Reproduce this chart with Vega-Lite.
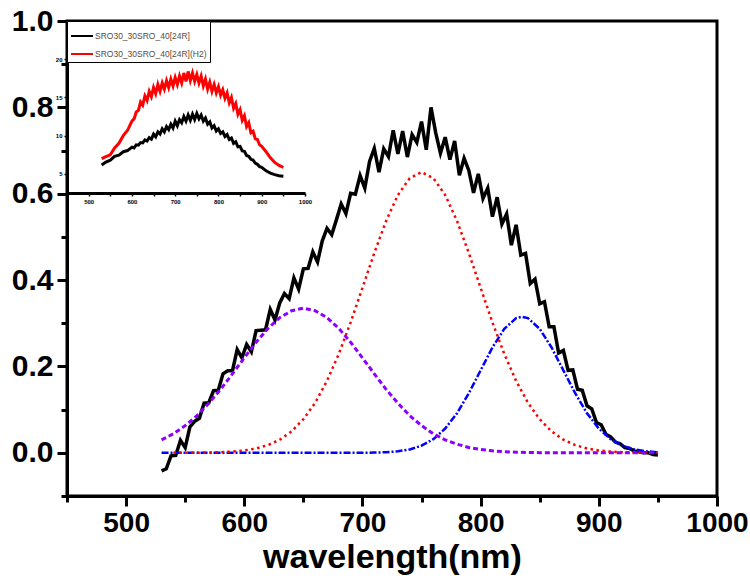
{
  "$schema": "https://vega.github.io/schema/vega-lite/v6.json",
  "width": 650,
  "height": 475,
  "autosize": {"type": "none"},
  "padding": {"left": 67, "top": 21, "right": 33, "bottom": 83},
  "background": "white",
  "config": {
    "view": {"stroke": "black", "strokeWidth": 3},
    "font": "Liberation Sans"
  },
  "datasets": {
    "exp": [
      {"wl":530,"v":-0.042},{"wl":534,"v":-0.037},{"wl":538,"v":-0.007},{"wl":542,"v":-0.006},{"wl":546,"v":0.029},{"wl":550,"v":0.012},{"wl":554,"v":0.06},{"wl":558,"v":0.073},{"wl":562,"v":0.08},{"wl":566,"v":0.115},{"wl":570,"v":0.116},{"wl":574,"v":0.144},{"wl":578,"v":0.145},{"wl":582,"v":0.183},{"wl":586,"v":0.19},{"wl":590,"v":0.19},{"wl":594,"v":0.239},{"wl":598,"v":0.22},{"wl":602,"v":0.251},{"wl":606,"v":0.234},{"wl":610,"v":0.283},{"wl":614,"v":0.284},{"wl":618,"v":0.285},{"wl":622,"v":0.332},{"wl":626,"v":0.308},{"wl":630,"v":0.347},{"wl":634,"v":0.369},{"wl":638,"v":0.357},{"wl":642,"v":0.405},{"wl":646,"v":0.379},{"wl":650,"v":0.426},{"wl":654,"v":0.427},{"wl":658,"v":0.465},{"wl":662,"v":0.442},{"wl":666,"v":0.491},{"wl":670,"v":0.52},{"wl":674,"v":0.505},{"wl":678,"v":0.54},{"wl":682,"v":0.576},{"wl":686,"v":0.554},{"wl":690,"v":0.601},{"wl":694,"v":0.599},{"wl":698,"v":0.642},{"wl":702,"v":0.613},{"wl":706,"v":0.675},{"wl":710,"v":0.705},{"wl":714,"v":0.65},{"wl":718,"v":0.704},{"wl":722,"v":0.686},{"wl":726,"v":0.747},{"wl":730,"v":0.692},{"wl":734,"v":0.745},{"wl":738,"v":0.685},{"wl":742,"v":0.737},{"wl":746,"v":0.719},{"wl":750,"v":0.767},{"wl":754,"v":0.702},{"wl":758,"v":0.80},{"wl":762,"v":0.741},{"wl":766,"v":0.694},{"wl":770,"v":0.731},{"wl":774,"v":0.679},{"wl":778,"v":0.722},{"wl":782,"v":0.643},{"wl":786,"v":0.682},{"wl":790,"v":0.654},{"wl":794,"v":0.602},{"wl":798,"v":0.646},{"wl":802,"v":0.589},{"wl":806,"v":0.613},{"wl":810,"v":0.547},{"wl":814,"v":0.592},{"wl":818,"v":0.53},{"wl":822,"v":0.553},{"wl":826,"v":0.481},{"wl":830,"v":0.528},{"wl":834,"v":0.458},{"wl":838,"v":0.462},{"wl":842,"v":0.392},{"wl":846,"v":0.402},{"wl":850,"v":0.345},{"wl":854,"v":0.35},{"wl":858,"v":0.292},{"wl":862,"v":0.292},{"wl":866,"v":0.231},{"wl":870,"v":0.237},{"wl":874,"v":0.191},{"wl":878,"v":0.192},{"wl":882,"v":0.147},{"wl":886,"v":0.145},{"wl":890,"v":0.109},{"wl":894,"v":0.102},{"wl":898,"v":0.07},{"wl":902,"v":0.065},{"wl":906,"v":0.043},{"wl":910,"v":0.037},{"wl":914,"v":0.025},{"wl":918,"v":0.021},{"wl":922,"v":0.012},{"wl":926,"v":0.01},{"wl":930,"v":0.004},{"wl":934,"v":0.003},{"wl":938,"v":0.0},{"wl":942,"v":0.0},{"wl":946,"v":-0.004},{"wl":950,"v":-0.005}
    ],
    "purple": [
      {"wl":530,"v":0.030},{"wl":540,"v":0.044},{"wl":550,"v":0.063},{"wl":560,"v":0.086},{"wl":570,"v":0.115},{"wl":580,"v":0.147},{"wl":590,"v":0.183},{"wl":600,"v":0.220},{"wl":610,"v":0.256},{"wl":620,"v":0.288},{"wl":630,"v":0.313},{"wl":640,"v":0.329},{"wl":650,"v":0.335},{"wl":660,"v":0.329},{"wl":670,"v":0.313},{"wl":680,"v":0.288},{"wl":690,"v":0.256},{"wl":700,"v":0.220},{"wl":710,"v":0.183},{"wl":720,"v":0.147},{"wl":730,"v":0.115},{"wl":740,"v":0.086},{"wl":750,"v":0.063},{"wl":760,"v":0.044},{"wl":770,"v":0.030},{"wl":780,"v":0.020},{"wl":790,"v":0.0125},{"wl":800,"v":0.0077},{"wl":810,"v":0.0046},{"wl":820,"v":0.0026},{"wl":830,"v":0.0015},{"wl":840,"v":0.0008},{"wl":850,"v":0.0004},{"wl":860,"v":0.0002},{"wl":870,"v":0.0001},{"wl":880,"v":0},{"wl":890,"v":0},{"wl":900,"v":0},{"wl":910,"v":0},{"wl":920,"v":0},{"wl":930,"v":0},{"wl":940,"v":0},{"wl":950,"v":0}
    ],
    "red": [
      {"wl":540,"v":0.0},{"wl":550,"v":0.0001},{"wl":560,"v":0.0003},{"wl":570,"v":0.0007},{"wl":580,"v":0.0014},{"wl":590,"v":0.0028},{"wl":600,"v":0.0054},{"wl":610,"v":0.0101},{"wl":620,"v":0.0179},{"wl":630,"v":0.0304},{"wl":640,"v":0.0497},{"wl":650,"v":0.0776},{"wl":660,"v":0.116},{"wl":670,"v":0.1667},{"wl":680,"v":0.229},{"wl":690,"v":0.302},{"wl":700,"v":0.382},{"wl":710,"v":0.4626},{"wl":720,"v":0.537},{"wl":730,"v":0.597},{"wl":740,"v":0.636},{"wl":750,"v":0.65},{"wl":760,"v":0.636},{"wl":770,"v":0.597},{"wl":780,"v":0.537},{"wl":790,"v":0.4626},{"wl":800,"v":0.382},{"wl":810,"v":0.302},{"wl":820,"v":0.229},{"wl":830,"v":0.1667},{"wl":840,"v":0.116},{"wl":850,"v":0.0776},{"wl":860,"v":0.0497},{"wl":870,"v":0.0304},{"wl":880,"v":0.0179},{"wl":890,"v":0.0101},{"wl":900,"v":0.0054},{"wl":910,"v":0.0028},{"wl":920,"v":0.0014},{"wl":930,"v":0.0007},{"wl":940,"v":0.0003},{"wl":950,"v":0.0001}
    ],
    "blue": [
      {"wl":530,"v":0},{"wl":550,"v":0},{"wl":600,"v":0},{"wl":650,"v":0},{"wl":690,"v":0},{"wl":700,"v":0.0002},{"wl":710,"v":0.0005},{"wl":720,"v":0.0014},{"wl":730,"v":0.0035},{"wl":740,"v":0.0079},{"wl":750,"v":0.0165},{"wl":760,"v":0.0317},{"wl":770,"v":0.0562},{"wl":780,"v":0.0917},{"wl":790,"v":0.138},{"wl":800,"v":0.191},{"wl":810,"v":0.244},{"wl":820,"v":0.287},{"wl":830,"v":0.312},{"wl":835,"v":0.315},{"wl":840,"v":0.312},{"wl":850,"v":0.287},{"wl":860,"v":0.244},{"wl":870,"v":0.191},{"wl":880,"v":0.138},{"wl":890,"v":0.0917},{"wl":900,"v":0.0562},{"wl":910,"v":0.0317},{"wl":920,"v":0.0165},{"wl":930,"v":0.0079},{"wl":940,"v":0.0035},{"wl":950,"v":0.0014}
    ],
    "ins": [
      {"wl":530,"v":6.15,"s":"SRO30_30SRO_40[24R]"},{"wl":540,"v":6.55,"s":"SRO30_30SRO_40[24R]"},{"wl":550,"v":6.8,"s":"SRO30_30SRO_40[24R]"},{"wl":560,"v":7.3,"s":"SRO30_30SRO_40[24R]"},{"wl":570,"v":7.45,"s":"SRO30_30SRO_40[24R]"},{"wl":580,"v":7.9,"s":"SRO30_30SRO_40[24R]"},{"wl":590,"v":8.05,"s":"SRO30_30SRO_40[24R]"},{"wl":600,"v":8.5,"s":"SRO30_30SRO_40[24R]"},{"wl":605,"v":8.4,"s":"SRO30_30SRO_40[24R]"},{"wl":610,"v":8.8,"s":"SRO30_30SRO_40[24R]"},{"wl":615,"v":8.75,"s":"SRO30_30SRO_40[24R]"},{"wl":620,"v":9.1,"s":"SRO30_30SRO_40[24R]"},{"wl":625,"v":9.05,"s":"SRO30_30SRO_40[24R]"},{"wl":630,"v":9.45,"s":"SRO30_30SRO_40[24R]"},{"wl":635,"v":9.3,"s":"SRO30_30SRO_40[24R]"},{"wl":640,"v":9.75,"s":"SRO30_30SRO_40[24R]"},{"wl":645,"v":9.55,"s":"SRO30_30SRO_40[24R]"},{"wl":650,"v":10.2,"s":"SRO30_30SRO_40[24R]"},{"wl":655,"v":9.85,"s":"SRO30_30SRO_40[24R]"},{"wl":660,"v":10.5,"s":"SRO30_30SRO_40[24R]"},{"wl":665,"v":10.2,"s":"SRO30_30SRO_40[24R]"},{"wl":670,"v":10.9,"s":"SRO30_30SRO_40[24R]"},{"wl":675,"v":10.5,"s":"SRO30_30SRO_40[24R]"},{"wl":680,"v":11.2,"s":"SRO30_30SRO_40[24R]"},{"wl":685,"v":10.8,"s":"SRO30_30SRO_40[24R]"},{"wl":690,"v":11.5,"s":"SRO30_30SRO_40[24R]"},{"wl":695,"v":11.0,"s":"SRO30_30SRO_40[24R]"},{"wl":700,"v":11.9,"s":"SRO30_30SRO_40[24R]"},{"wl":705,"v":11.3,"s":"SRO30_30SRO_40[24R]"},{"wl":710,"v":12.1,"s":"SRO30_30SRO_40[24R]"},{"wl":715,"v":11.7,"s":"SRO30_30SRO_40[24R]"},{"wl":720,"v":12.5,"s":"SRO30_30SRO_40[24R]"},{"wl":725,"v":11.9,"s":"SRO30_30SRO_40[24R]"},{"wl":730,"v":12.7,"s":"SRO30_30SRO_40[24R]"},{"wl":735,"v":12.0,"s":"SRO30_30SRO_40[24R]"},{"wl":740,"v":12.8,"s":"SRO30_30SRO_40[24R]"},{"wl":745,"v":12.1,"s":"SRO30_30SRO_40[24R]"},{"wl":750,"v":12.9,"s":"SRO30_30SRO_40[24R]"},{"wl":755,"v":12.2,"s":"SRO30_30SRO_40[24R]"},{"wl":760,"v":12.7,"s":"SRO30_30SRO_40[24R]"},{"wl":765,"v":11.9,"s":"SRO30_30SRO_40[24R]"},{"wl":770,"v":12.3,"s":"SRO30_30SRO_40[24R]"},{"wl":775,"v":11.5,"s":"SRO30_30SRO_40[24R]"},{"wl":780,"v":11.8,"s":"SRO30_30SRO_40[24R]"},{"wl":785,"v":11.0,"s":"SRO30_30SRO_40[24R]"},{"wl":790,"v":11.3,"s":"SRO30_30SRO_40[24R]"},{"wl":795,"v":10.6,"s":"SRO30_30SRO_40[24R]"},{"wl":800,"v":10.9,"s":"SRO30_30SRO_40[24R]"},{"wl":805,"v":10.3,"s":"SRO30_30SRO_40[24R]"},{"wl":810,"v":10.5,"s":"SRO30_30SRO_40[24R]"},{"wl":815,"v":9.9,"s":"SRO30_30SRO_40[24R]"},{"wl":820,"v":10.15,"s":"SRO30_30SRO_40[24R]"},{"wl":825,"v":9.5,"s":"SRO30_30SRO_40[24R]"},{"wl":830,"v":9.7,"s":"SRO30_30SRO_40[24R]"},{"wl":835,"v":9.0,"s":"SRO30_30SRO_40[24R]"},{"wl":840,"v":9.2,"s":"SRO30_30SRO_40[24R]"},{"wl":845,"v":8.55,"s":"SRO30_30SRO_40[24R]"},{"wl":850,"v":8.6,"s":"SRO30_30SRO_40[24R]"},{"wl":855,"v":8.0,"s":"SRO30_30SRO_40[24R]"},{"wl":860,"v":7.95,"s":"SRO30_30SRO_40[24R]"},{"wl":865,"v":7.4,"s":"SRO30_30SRO_40[24R]"},{"wl":870,"v":7.3,"s":"SRO30_30SRO_40[24R]"},{"wl":875,"v":6.9,"s":"SRO30_30SRO_40[24R]"},{"wl":880,"v":6.8,"s":"SRO30_30SRO_40[24R]"},{"wl":885,"v":6.4,"s":"SRO30_30SRO_40[24R]"},{"wl":890,"v":6.25,"s":"SRO30_30SRO_40[24R]"},{"wl":895,"v":5.95,"s":"SRO30_30SRO_40[24R]"},{"wl":900,"v":5.85,"s":"SRO30_30SRO_40[24R]"},{"wl":910,"v":5.4,"s":"SRO30_30SRO_40[24R]"},{"wl":920,"v":5.1,"s":"SRO30_30SRO_40[24R]"},{"wl":930,"v":4.9,"s":"SRO30_30SRO_40[24R]"},{"wl":940,"v":4.75,"s":"SRO30_30SRO_40[24R]"},{"wl":950,"v":4.7,"s":"SRO30_30SRO_40[24R]"},
      {"wl":530,"v":7.0,"s":"SRO30_30SRO_40[24R](H2)"},{"wl":540,"v":7.25,"s":"SRO30_30SRO_40[24R](H2)"},{"wl":550,"v":7.5,"s":"SRO30_30SRO_40[24R](H2)"},{"wl":560,"v":8.4,"s":"SRO30_30SRO_40[24R](H2)"},{"wl":570,"v":9.0,"s":"SRO30_30SRO_40[24R](H2)"},{"wl":580,"v":10.0,"s":"SRO30_30SRO_40[24R](H2)"},{"wl":590,"v":10.7,"s":"SRO30_30SRO_40[24R](H2)"},{"wl":600,"v":11.9,"s":"SRO30_30SRO_40[24R](H2)"},{"wl":605,"v":12.2,"s":"SRO30_30SRO_40[24R](H2)"},{"wl":610,"v":13.1,"s":"SRO30_30SRO_40[24R](H2)"},{"wl":615,"v":13.3,"s":"SRO30_30SRO_40[24R](H2)"},{"wl":620,"v":14.4,"s":"SRO30_30SRO_40[24R](H2)"},{"wl":625,"v":14.0,"s":"SRO30_30SRO_40[24R](H2)"},{"wl":630,"v":15.2,"s":"SRO30_30SRO_40[24R](H2)"},{"wl":635,"v":14.6,"s":"SRO30_30SRO_40[24R](H2)"},{"wl":640,"v":15.8,"s":"SRO30_30SRO_40[24R](H2)"},{"wl":645,"v":15.1,"s":"SRO30_30SRO_40[24R](H2)"},{"wl":650,"v":16.3,"s":"SRO30_30SRO_40[24R](H2)"},{"wl":655,"v":15.5,"s":"SRO30_30SRO_40[24R](H2)"},{"wl":660,"v":16.7,"s":"SRO30_30SRO_40[24R](H2)"},{"wl":665,"v":15.8,"s":"SRO30_30SRO_40[24R](H2)"},{"wl":670,"v":16.9,"s":"SRO30_30SRO_40[24R](H2)"},{"wl":675,"v":16.1,"s":"SRO30_30SRO_40[24R](H2)"},{"wl":680,"v":17.2,"s":"SRO30_30SRO_40[24R](H2)"},{"wl":685,"v":16.3,"s":"SRO30_30SRO_40[24R](H2)"},{"wl":690,"v":17.4,"s":"SRO30_30SRO_40[24R](H2)"},{"wl":695,"v":16.5,"s":"SRO30_30SRO_40[24R](H2)"},{"wl":700,"v":17.6,"s":"SRO30_30SRO_40[24R](H2)"},{"wl":705,"v":16.7,"s":"SRO30_30SRO_40[24R](H2)"},{"wl":710,"v":17.8,"s":"SRO30_30SRO_40[24R](H2)"},{"wl":715,"v":16.9,"s":"SRO30_30SRO_40[24R](H2)"},{"wl":720,"v":18.2,"s":"SRO30_30SRO_40[24R](H2)"},{"wl":725,"v":17.1,"s":"SRO30_30SRO_40[24R](H2)"},{"wl":730,"v":18.4,"s":"SRO30_30SRO_40[24R](H2)"},{"wl":735,"v":17.2,"s":"SRO30_30SRO_40[24R](H2)"},{"wl":740,"v":18.2,"s":"SRO30_30SRO_40[24R](H2)"},{"wl":745,"v":17.1,"s":"SRO30_30SRO_40[24R](H2)"},{"wl":750,"v":18.0,"s":"SRO30_30SRO_40[24R](H2)"},{"wl":755,"v":16.9,"s":"SRO30_30SRO_40[24R](H2)"},{"wl":760,"v":17.8,"s":"SRO30_30SRO_40[24R](H2)"},{"wl":765,"v":16.5,"s":"SRO30_30SRO_40[24R](H2)"},{"wl":770,"v":17.4,"s":"SRO30_30SRO_40[24R](H2)"},{"wl":775,"v":16.1,"s":"SRO30_30SRO_40[24R](H2)"},{"wl":780,"v":17.0,"s":"SRO30_30SRO_40[24R](H2)"},{"wl":785,"v":15.8,"s":"SRO30_30SRO_40[24R](H2)"},{"wl":790,"v":16.7,"s":"SRO30_30SRO_40[24R](H2)"},{"wl":795,"v":15.6,"s":"SRO30_30SRO_40[24R](H2)"},{"wl":800,"v":16.4,"s":"SRO30_30SRO_40[24R](H2)"},{"wl":805,"v":15.3,"s":"SRO30_30SRO_40[24R](H2)"},{"wl":810,"v":16.0,"s":"SRO30_30SRO_40[24R](H2)"},{"wl":815,"v":14.9,"s":"SRO30_30SRO_40[24R](H2)"},{"wl":820,"v":15.6,"s":"SRO30_30SRO_40[24R](H2)"},{"wl":825,"v":14.3,"s":"SRO30_30SRO_40[24R](H2)"},{"wl":830,"v":15.0,"s":"SRO30_30SRO_40[24R](H2)"},{"wl":835,"v":13.6,"s":"SRO30_30SRO_40[24R](H2)"},{"wl":840,"v":14.2,"s":"SRO30_30SRO_40[24R](H2)"},{"wl":845,"v":12.8,"s":"SRO30_30SRO_40[24R](H2)"},{"wl":850,"v":13.4,"s":"SRO30_30SRO_40[24R](H2)"},{"wl":855,"v":12.0,"s":"SRO30_30SRO_40[24R](H2)"},{"wl":860,"v":12.6,"s":"SRO30_30SRO_40[24R](H2)"},{"wl":865,"v":11.2,"s":"SRO30_30SRO_40[24R](H2)"},{"wl":870,"v":11.7,"s":"SRO30_30SRO_40[24R](H2)"},{"wl":875,"v":10.4,"s":"SRO30_30SRO_40[24R](H2)"},{"wl":880,"v":10.6,"s":"SRO30_30SRO_40[24R](H2)"},{"wl":885,"v":9.6,"s":"SRO30_30SRO_40[24R](H2)"},{"wl":890,"v":9.5,"s":"SRO30_30SRO_40[24R](H2)"},{"wl":895,"v":8.8,"s":"SRO30_30SRO_40[24R](H2)"},{"wl":900,"v":8.6,"s":"SRO30_30SRO_40[24R](H2)"},{"wl":910,"v":7.9,"s":"SRO30_30SRO_40[24R](H2)"},{"wl":920,"v":7.1,"s":"SRO30_30SRO_40[24R](H2)"},{"wl":930,"v":6.5,"s":"SRO30_30SRO_40[24R](H2)"},{"wl":940,"v":6.1,"s":"SRO30_30SRO_40[24R](H2)"},{"wl":950,"v":5.85,"s":"SRO30_30SRO_40[24R](H2)"}
    ]
  },
  "layer": [
    {
      "layer": [
        {
          "data": {"name": "exp"},
          "mark": {"type": "line", "color": "black", "strokeWidth": 3.5},
          "encoding": {
            "x": {"field": "wl", "type": "quantitative",
              "scale": {"domain": [450, 1000], "nice": false, "zero": false},
              "axis": {
                "title": "wavelength(nm)",
                "values": [450,500,550,600,650,700,750,800,850,900,950,1000],
                "format": "d",
                "labelExpr": "datum.value % 100 == 0 ? format(datum.value, 'd') : ''",
                "tickSize": {"condition": {"test": "datum.value % 100 == 0", "value": 10}, "value": 6},
                "tickWidth": 3, "tickColor": "black",
                "domainWidth": 3, "domainColor": "black",
                "grid": false, "labelFlush": false, "labelOverlap": false,
                "labelFont": "Liberation Sans", "labelFontSize": 28, "labelFontWeight": "bold", "labelColor": "black", "labelPadding": 3,
                "titleFont": "Liberation Sans", "titleFontSize": 34, "titleFontWeight": "bold", "titleColor": "black", "titlePadding": 3
              }
            },
            "y": {"field": "v", "type": "quantitative",
              "scale": {"domain": [-0.1, 1.0], "nice": false, "zero": false},
              "axis": {
                "title": null,
                "values": [-0.1,0,0.1,0.2,0.3,0.4,0.5,0.6,0.7,0.8,0.9,1.0],
                "labelExpr": "abs(round(datum.value*10)) % 2 == 0 ? format(datum.value, '.1f') : ''",
                "tickSize": {"condition": {"test": "abs(round(datum.value*10)) % 2 == 0", "value": 10}, "value": 6},
                "tickWidth": 3, "tickColor": "black",
                "domainWidth": 3, "domainColor": "black",
                "grid": false, "labelFlush": false, "labelOverlap": false,
                "labelFont": "Liberation Sans", "labelFontSize": 30, "labelFontWeight": "bold", "labelColor": "black", "labelPadding": 4
              }
            }
          }
        },
        {
          "data": {"name": "blue"},
          "mark": {"type": "line", "color": "#0000FF", "strokeWidth": 2.5, "strokeDash": [7, 2, 2, 2]},
          "encoding": {"x": {"field": "wl", "type": "quantitative"}, "y": {"field": "v", "type": "quantitative"}}
        },
        {
          "data": {"name": "red"},
          "mark": {"type": "line", "color": "#FF0000", "strokeWidth": 2.5, "strokeDash": [2.5, 3.5]},
          "encoding": {"x": {"field": "wl", "type": "quantitative"}, "y": {"field": "v", "type": "quantitative"}}
        },
        {
          "data": {"name": "purple"},
          "mark": {"type": "line", "color": "#8B00FF", "strokeWidth": 3, "strokeDash": [5, 3]},
          "encoding": {"x": {"field": "wl", "type": "quantitative"}, "y": {"field": "v", "type": "quantitative"}}
        }
      ]
    },
    {
      "layer": [
        {
          "data": {"name": "ins"},
          "mark": {"type": "line", "strokeWidth": 3},
          "encoding": {
            "x": {"field": "wl", "type": "quantitative",
              "scale": {"domain": [450, 1000], "range": [0, 238], "nice": false, "zero": false},
              "axis": {
                "orient": "bottom", "offset": -303, "title": null,
                "values": [450,500,550,600,650,700,750,800,850,900,950,1000],
                "labelExpr": "datum.value % 100 == 0 ? format(datum.value, 'd') : ''",
                "tickSize": 3, "tickWidth": 1.5, "tickColor": "black",
                "domainWidth": 3, "domainColor": "black", "grid": false,
                "labelFontSize": 6, "labelFontWeight": "bold", "labelColor": "black", "labelPadding": 2, "labelFlush": false, "labelOverlap": false
              }
            },
            "y": {"field": "v", "type": "quantitative",
              "scale": {"domain": [2.5, 25], "range": [172, 0], "nice": false, "zero": false},
              "axis": {
                "orient": "left", "title": null,
                "values": [5, 10, 15, 20],
                "tickSize": 3, "tickWidth": 1.5, "tickColor": "black",
                "domainWidth": 3, "domainColor": "black", "grid": false,
                "labelFontSize": 6, "labelFontWeight": "bold", "labelColor": "black", "labelPadding": 2
              }
            },
            "color": {"field": "s", "type": "nominal",
              "scale": {"domain": ["SRO30_30SRO_40[24R]", "SRO30_30SRO_40[24R](H2)"], "range": ["black", "#FF0000"]},
              "legend": {
                "title": null, "orient": "top-left", "offset": 0,
                "padding": 3, "rowPadding": 1,
                "strokeColor": "black", "fillColor": "white",
                "symbolType": "stroke", "symbolSize": 484, "symbolStrokeWidth": 2,
                "labelFont": "Liberation Sans", "labelFontSize": 8.5, "labelColor": "#5a4a3a", "labelOffset": 1
              }
            }
          }
        },
        {
          "mark": {"type": "rule", "color": "black", "strokeWidth": 2.5},
          "encoding": {
            "x": {"datum": 1000},
            "y": {"datum": 2.5},
            "y2": {"datum": 25}
          }
        }
      ]
    }
  ],
  "resolve": {"scale": {"x": "independent", "y": "independent", "color": "independent"}}
}
